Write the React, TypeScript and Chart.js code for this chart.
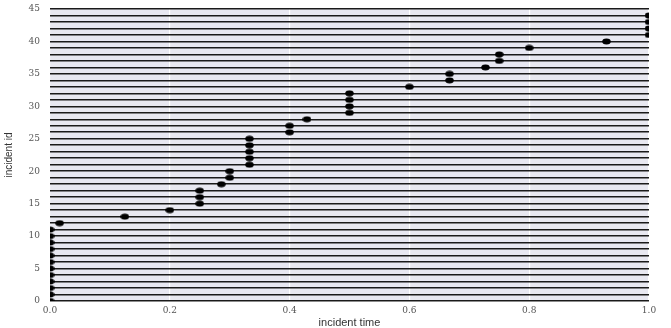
import React, { useEffect, useRef } from "react";
import { Chart, registerables } from "chart.js";

Chart.register(...registerables);

const incidentIds: number[] = [
  0, 1, 2, 3, 4, 5, 6, 7, 8, 9, 10, 11, 12, 13, 14, 15, 16, 17, 18, 19, 20, 21, 22,
  23, 24, 25, 26, 27, 28, 29, 30, 31, 32, 33, 34, 35, 36, 37, 38, 39, 40, 41, 42, 43, 44,
];
const incidentTimes: number[] = [
  0, 0, 0, 0, 0, 0, 0, 0, 0, 0, 0, 0,
  0.016, 0.125, 0.2, 0.25, 0.25, 0.25, 0.286, 0.3, 0.3,
  0.333, 0.333, 0.333, 0.333, 0.333, 0.4, 0.4, 0.429,
  0.5, 0.5, 0.5, 0.5, 0.6, 0.667, 0.667, 0.727, 0.75, 0.75, 0.8, 0.929,
  1, 1, 1, 1,
];
const xTicks: number[] = [0, 0.2, 0.4, 0.6, 0.8, 1.0];
const yMax = 45;

function makeEllipse(): HTMLCanvasElement {
  const c = document.createElement("canvas");
  c.width = 9;
  c.height = 7;
  const g = c.getContext("2d")!;
  g.fillStyle = "#000";
  g.beginPath();
  g.ellipse(4.5, 3.5, 4.3, 3.0, 0, 0, Math.PI * 2);
  g.fill();
  return c;
}

const bgPlugin = {
  id: "plotBg",
  beforeDraw(chart: any) {
    const { ctx, chartArea } = chart;
    ctx.save();
    ctx.fillStyle = "#E8E8F1";
    ctx.fillRect(chartArea.left, chartArea.top, chartArea.right - chartArea.left, chartArea.bottom - chartArea.top);
    ctx.restore();
  },
};

export default function App() {
  const ref = useRef<HTMLCanvasElement>(null);
  useEffect(() => {
    const pt = makeEllipse();
    const chart = new Chart(ref.current!, {
      type: "scatter",
      data: {
        datasets: [
          {
            data: incidentTimes.map((t, i) => ({ x: t, y: incidentIds[i] })),
            pointStyle: pt as any,
            pointRadius: 4,
            backgroundColor: "#000",
            borderColor: "#000",
            clip: 0 as any,
          },
        ],
      },
      options: {
        animation: false,
        responsive: false,
        devicePixelRatio: 1,
        layout: { padding: { left: 0, right: 22, top: 9, bottom: 0 } },
        plugins: { legend: { display: false }, tooltip: { enabled: false } },
        scales: {
          x: {
            type: "linear",
            min: 0,
            max: 1,
            afterBuildTicks: (s: any) => {
              s.ticks = xTicks.map((v) => ({ value: v }));
            },
            afterFit: (s: any) => {
              s.height = 27;
            },
            border: { display: false },
            grid: { color: "#ffffff", lineWidth: 1.2, drawTicks: false, z: -2 },
            ticks: {
              padding: 4,
              color: "#555",
              font: { family: "'DejaVu Serif', serif", size: 9 },
              callback: (v: any) => Number(v).toFixed(1),
              maxRotation: 0,
            },
            title: {
              display: true,
              text: "incident time",
              color: "#333",
              font: { family: "'Liberation Sans', Arial, sans-serif", size: 11 },
              padding: { top: 0, bottom: -2 },
            },
          },
          y: {
            type: "linear",
            min: 0,
            max: yMax,
            afterFit: (s: any) => {
              s.width = 50;
              s.paddingTop = 0;
              s.paddingBottom = 0;
            },
            border: { display: false },
            grid: { color: "#1a1a1a", lineWidth: 1.6, drawTicks: false, z: -1 },
            ticks: {
              stepSize: 1,
              autoSkip: false,
              padding: 10,
              color: "#555",
              font: { family: "'DejaVu Serif', serif", size: 9 },
              callback: (v: any) => (Number(v) % 5 === 0 ? String(v) : ""),
            },
            title: {
              display: true,
              text: "incident id",
              color: "#333",
              font: { family: "'Liberation Sans', Arial, sans-serif", size: 10 },
              padding: { top: 3, bottom: 0 },
            },
          },
        },
      },
      plugins: [bgPlugin],
    });
    return () => chart.destroy();
  }, []);
  return (
    <div style={{ position: "fixed", left: 0, top: 0, width: 671, height: 328 }}>
      <canvas ref={ref} width={671} height={328} style={{ width: 671, height: 328 }} />
    </div>
  );
}
